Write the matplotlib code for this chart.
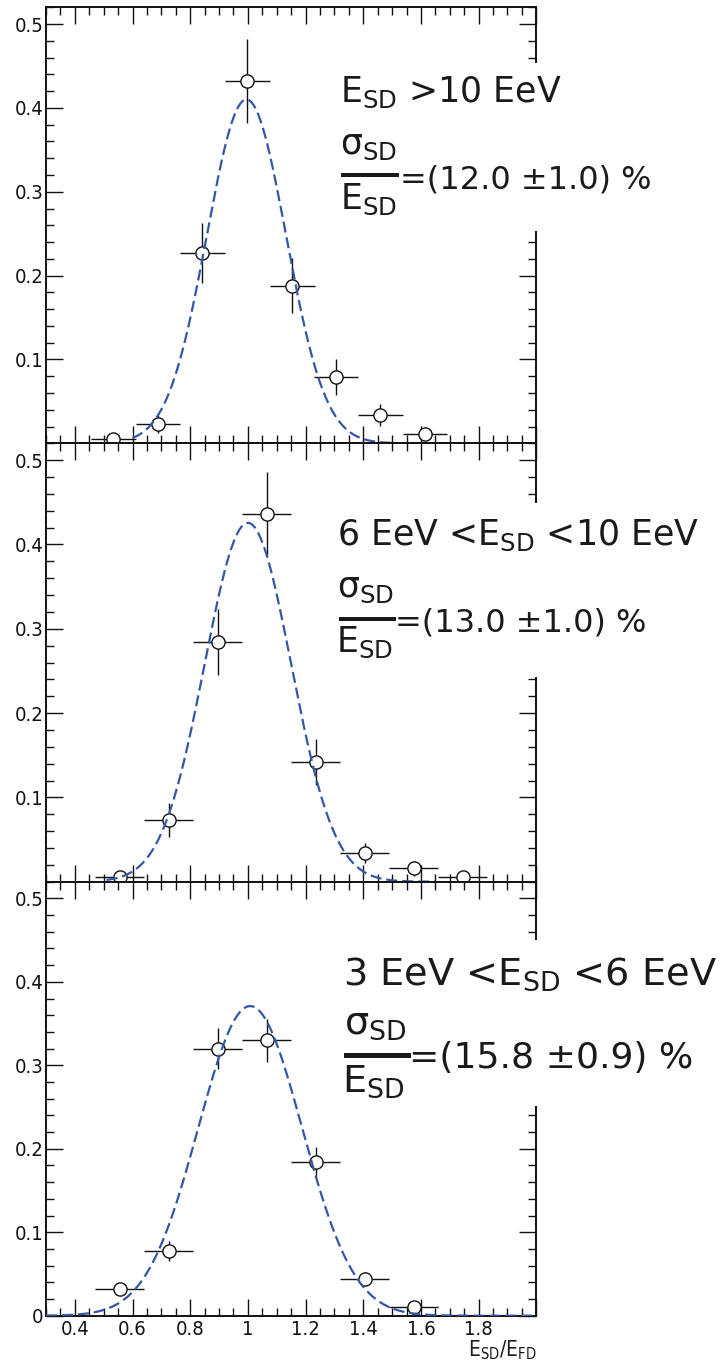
import matplotlib
matplotlib.use("Agg")
import matplotlib.pyplot as plt
import numpy as np
from matplotlib.patches import Rectangle
from matplotlib.ticker import MultipleLocator, FuncFormatter

plt.rcParams['font.family'] = ['DejaVu Sans']
plt.rcParams['font.stretch'] = 'condensed'
plt.rcParams['mathtext.default'] = 'regular'

W, H = 727, 1364

# E_SD > 10 EeV
x_hi = [0.377, 0.534, 0.688, 0.842, 0.998, 1.154, 1.306, 1.459, 1.614]
y_hi = [0.0, 0.005, 0.023, 0.227, 0.432, 0.188, 0.079, 0.034, 0.011]
ey_hi = [0.0, 0.004, 0.011, 0.036, 0.050, 0.033, 0.021, 0.013, 0.007]
bin_hi = 0.1545
fit_hi = dict(amp=0.410, mean=0.995, sigma=0.137, lo=0.60, hi=1.50)

# 6 EeV < E_SD < 10 EeV
x_mid = [0.555, 0.725, 0.895, 1.065, 1.235, 1.405, 1.575, 1.745]
y_mid = [0.006, 0.073, 0.284, 0.436, 0.142, 0.034, 0.016, 0.005]
ey_mid = [0.004, 0.020, 0.039, 0.050, 0.027, 0.012, 0.009, 0.004]
bin_mid = 0.17
fit_mid = dict(amp=0.4256, mean=1.000, sigma=0.150, lo=0.51, hi=1.65)

# 3 EeV < E_SD < 6 EeV
x_lo = [0.555, 0.725, 0.895, 1.065, 1.235, 1.405, 1.575]
y_lo = [0.032, 0.077, 0.320, 0.330, 0.184, 0.044, 0.010]
ey_lo = [0.006, 0.012, 0.025, 0.026, 0.018, 0.008, 0.004]
bin_lo = 0.17
fit_lo = dict(amp=0.371, mean=1.008, sigma=0.180, lo=0.30, hi=2.00)

range_labels = [r"E$_{SD}$ >10 EeV",
                r"6 EeV <E$_{SD}$ <10 EeV",
                r"3 EeV <E$_{SD}$ <6 EeV"]
resolutions = ["=(12.0 \u00b11.0) %", "=(13.0 \u00b11.0) %", "=(15.8 \u00b10.9) %"]

panels = [(x_hi, y_hi, ey_hi, bin_hi, fit_hi),
          (x_mid, y_mid, ey_mid, bin_mid, fit_mid),
          (x_lo, y_lo, ey_lo, bin_lo, fit_lo)]

# pixel layout: axes top/bottom, and the annotation block of each panel
ax_rows = [(7.3, 443.3), (443.3, 881.7), (881.7, 1315.7)]
ax_left, ax_right = 46.0, 536.3
notes = [
    dict(fs1=25, fs2=23, x1=339.9, y1=101.7, bar=(340.7, 399.3, 174.7, 4.0),
         xn=340.5, yn=154.0, xd=339.6, yd=209.3, xr=399.5, yr=188.3,
         box=(63, 231)),
    dict(fs1=25, fs2=23, x1=336.8, y1=545.0, bar=(339.2, 395.8, 618.7, 4.0),
         xn=337.0, yn=597.0, xd=336.0, yd=651.7, xr=395.2, yr=631.7,
         box=(503, 677)),
    dict(fs1=27.5, fs2=26, x1=343.0, y1=985.0, bar=(343.8, 410.5, 1055.5, 5.5),
         xn=343.5, yn=1034.0, xd=342.3, yd=1091.7, xr=409.0, yr=1068.3,
         box=(940, 1106)),
]

fig = plt.figure(figsize=(W / 100, H / 100), dpi=100)
fig.patch.set_facecolor('white')


def fx(px):
    return px / W


def fy(py):
    return 1 - py / H


def xfmt(v, pos):
    if abs(v - 2.0) < 1e-6 or v < 0.35:
        return ""
    return "%g" % round(v, 2)


for i, ((xs, ys, eys, bw, fit), (top, bot)) in enumerate(zip(panels, ax_rows)):
    ax = fig.add_axes([fx(ax_left), fy(bot), fx(ax_right) - fx(ax_left),
                       (bot - top) / H])
    xs = np.array(xs)
    ys = np.array(ys)
    eys = np.array(eys)

    ax.errorbar(xs, ys, xerr=bw / 2, yerr=eys, fmt='none', ecolor='#111111',
                elinewidth=1.0, capsize=0, zorder=2)
    filled = ys > 0
    ax.plot(xs[filled], ys[filled], 'o', ms=9.5, mfc='white', mec='#111111',
            mew=1.0, zorder=3)

    xf = np.linspace(fit['lo'], fit['hi'], 500)
    yf = fit['amp'] * np.exp(-0.5 * ((xf - fit['mean']) / fit['sigma']) ** 2)
    ax.plot(xf, yf, color='#3556a8', lw=1.6, dashes=(5, 2.2), zorder=4)

    ax.set_xlim(0.3, 2.0)
    ax.set_ylim(0, 0.52)
    ax.xaxis.set_major_locator(MultipleLocator(0.2))
    ax.xaxis.set_minor_locator(MultipleLocator(0.05))
    ax.yaxis.set_major_locator(MultipleLocator(0.1))
    ax.yaxis.set_minor_locator(MultipleLocator(0.02))
    ax.tick_params(which='both', direction='in', top=True, right=True,
                   width=1.0, colors='#111111', labelsize=14.5)
    ax.tick_params(which='major', length=12)
    ax.tick_params(which='minor', length=5.5)
    ax.tick_params(axis='y', pad=2)
    ax.tick_params(axis='x', pad=3)
    for sp in ax.spines.values():
        sp.set_linewidth(1.4)
        sp.set_color('#111111')

    last = i == len(panels) - 1
    if last:
        ax.xaxis.set_major_formatter(FuncFormatter(xfmt))
        ax.yaxis.set_major_formatter(FuncFormatter(lambda v, p: "%g" % round(v, 2)))
    else:
        ax.tick_params(axis='x', labelbottom=False)
        ax.yaxis.set_major_formatter(
            FuncFormatter(lambda v, p: "" if v < 0.05 else "%g" % round(v, 2)))

    # annotation block, drawn over the right-hand frame
    n = notes[i]
    y0, y1 = n['box']
    fig.add_artist(Rectangle((fx(335), fy(y1)), 1 - fx(335), (y1 - y0) / H,
                             transform=fig.transFigure, facecolor='white',
                             edgecolor='none', zorder=5))
    txt = dict(color='#1a1a1a', va='baseline', ha='left', zorder=7,
               fontstretch='normal')
    fig.text(fx(n['x1']), fy(n['y1']), range_labels[i], fontsize=n['fs1'], **txt)
    bx0, bx1, by, bth = n['bar']
    fig.add_artist(Rectangle((fx(bx0), fy(by + bth / 2)), fx(bx1) - fx(bx0),
                             bth / H, transform=fig.transFigure,
                             facecolor='#1a1a1a', edgecolor='none', zorder=7))
    fig.text(fx(n['xn']), fy(n['yn']), r"$\sigma_{SD}$", fontsize=n['fs1'], **txt)
    fig.text(fx(n['xd']), fy(n['yd']), r"E$_{SD}$", fontsize=n['fs1'], **txt)
    fig.text(fx(n['xr']), fy(n['yr']), resolutions[i], fontsize=n['fs2'], **txt)

fig.text(fx(536.7), fy(1356.7), r"E$_{SD}$/E$_{FD}$", fontsize=15,
         ha='right', va='baseline', color='#1a1a1a', zorder=7)

fig.savefig("out.png", dpi=100, facecolor='white')
